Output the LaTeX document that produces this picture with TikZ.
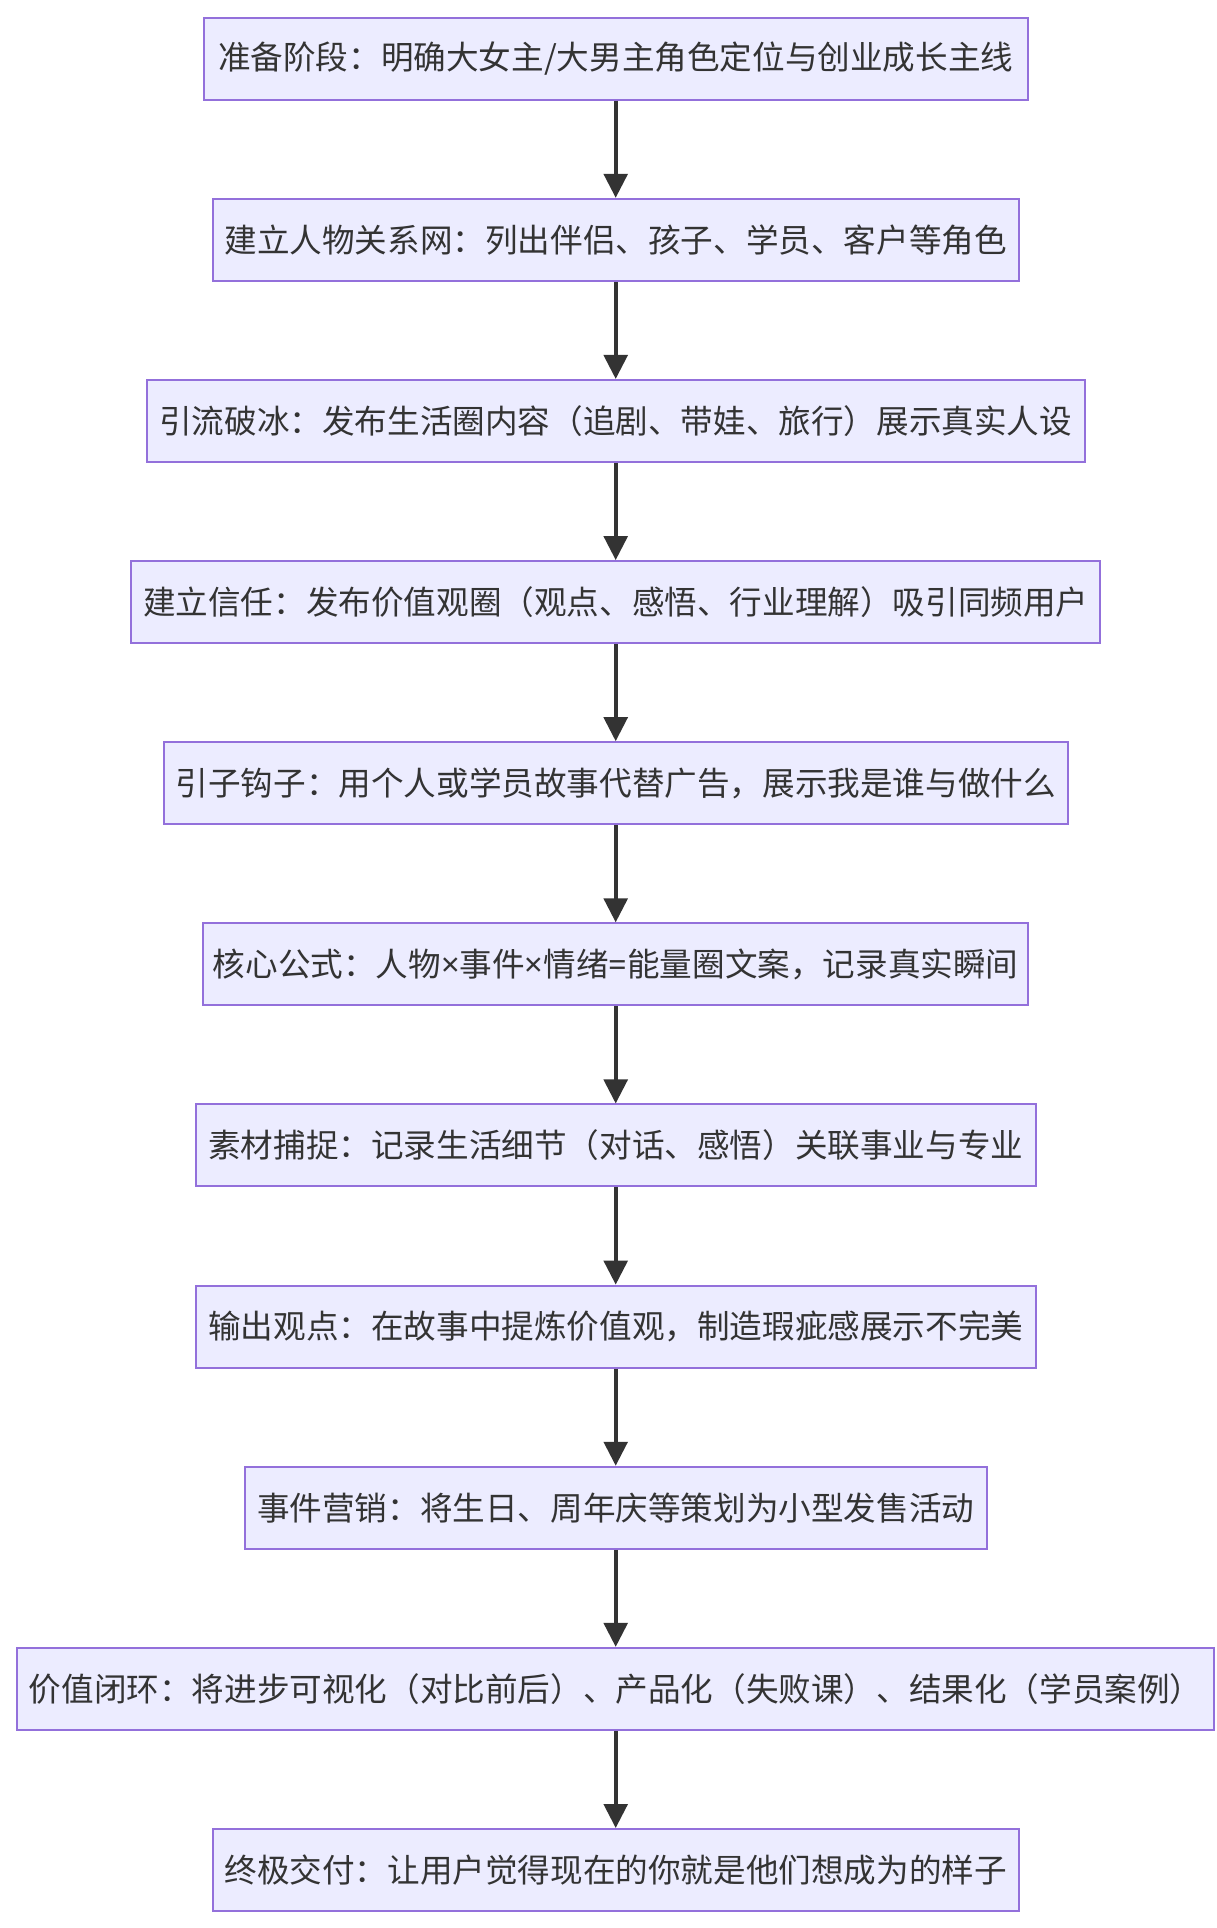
\documentclass[tikz,border=0pt]{standalone}
\usepackage{fontspec}
\usepackage{color}
\usepackage{tikz}
\usetikzlibrary{arrows.meta}
\newfontfamily\cjk{Noto Sans CJK SC}
\newfontfamily\latn{Noto Sans}
\definecolor{boxfill}{HTML}{ECECFF}
\definecolor{boxline}{HTML}{9370DB}
\definecolor{ink}{HTML}{333333}

\begin{document}
\begin{tikzpicture}[x=1pt,y=1pt,
                stepbox/.style={rectangle,draw=boxline,fill=boxfill,line width=1pt,text=ink,
                    minimum height=41pt,inner xsep=0pt,font=\cjk\fontsize{16.3}{19}\selectfont},
                flow/.style={draw=ink,line width=1.9pt,-{Triangle[length=12pt,width=11.8pt]}}
            ]
                \useasboundingbox (0,0) rectangle (608,-964);
                \foreach \w/\t [count=\i] in {
                    412/{准备阶段：明确大女主/大男主角色定位与创业成长主线},
                    403/{建立人物关系网：列出伴侣、孩子、学员、客户等角色},
                    469/{引流破冰：发布生活圈内容（追剧、带娃、旅行）展示真实人设},
                    484.5/{建立信任：发布价值观圈（观点、感悟、行业理解）吸引同频用户},
                    452/{引子钩子：用个人或学员故事代替广告，展示我是谁与做什么},
                    412.5/{核心公式：人物{\latn ×}事件{\latn ×}情绪{\latn =}能量圈文案，记录真实瞬间},
                    420/{素材捕捉：记录生活细节（对话、感悟）关联事业与专业},
                    420/{输出观点：在故事中提炼价值观，制造瑕疵感展示不完美},
                    371/{事件营销：将生日、周年庆等策划为小型发售活动},
                    598.5/{价值闭环：将进步可视化（对比前后）、产品化（失败课）、结果化（学员案例）},
                    403/{终极交付：让用户觉得现在的你就是他们想成为的样子}}
                    {
                    \pgfmathsetmacro{\ypos}{-29.35-90.565*(\i-1)}
                    \node[stepbox,minimum width=\w pt] (s\i) at (307.85,\ypos) {\t};
                }
                \foreach \i in {1,...,10}
                    {
                    \pgfmathtruncatemacro{\next}{\i+1};
                    \draw[flow] (s\i) -- (s\next);
                }

            \end{tikzpicture}
\end{document}
